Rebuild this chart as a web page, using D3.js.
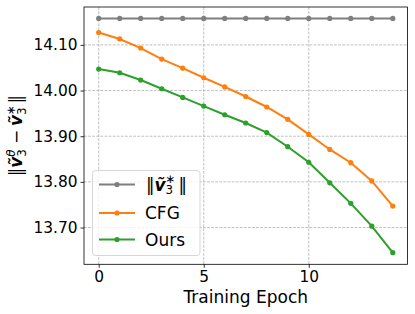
<!DOCTYPE html>
<html><head><meta charset="utf-8">
<script src="https://cdn.jsdelivr.net/npm/d3@7"></script>
<style>body{margin:0;background:#fff}svg{display:block;font-family:"DejaVu Sans",sans-serif}</style>
</head><body>
<svg id="c" width="415" height="314"></svg>
<script>
const epochs = [0,1,2,3,4,5,6,7,8,9,10,11,12,13,14];
const refNorm = [14.158,14.158,14.158,14.158,14.158,14.158,14.158,14.158,14.158,14.158,14.158,14.158,14.158,14.158,14.158];
const cfg = [14.127,14.113,14.093,14.069,14.049,14.028,14.008,13.987,13.964,13.937,13.904,13.871,13.842,13.802,13.747];
const ours = [14.047,14.039,14.023,14.004,13.985,13.966,13.947,13.929,13.908,13.877,13.843,13.798,13.753,13.703,13.645];
const xTicks = [0,5,10];
const yTicks = [13.70,13.80,13.90,14.00,14.10];
const seriesNames = ["ref","CFG","Ours"];
const colors = ["#7f7f7f","#ff7f0e","#2ca02c"];

const svg = d3.select("#c");
const L=84, R=407.5, T=7, B=264.3;
const x = d3.scaleLinear().domain([-0.7,14.7]).range([L,R]);
const y = d3.scaleLinear().domain([13.6195,14.183]).range([B,T]);

// grid
const g = svg.append("g");
g.selectAll(".gx").data(xTicks).join("line")
  .attr("x1",d=>x(d)).attr("x2",d=>x(d)).attr("y1",T).attr("y2",B)
  .attr("stroke","#b0b0b0").attr("stroke-width",0.8).attr("stroke-dasharray","2.8,1.3");
g.selectAll(".gy").data(yTicks).join("line")
  .attr("y1",d=>y(d)).attr("y2",d=>y(d)).attr("x1",L).attr("x2",R)
  .attr("stroke","#b0b0b0").attr("stroke-width",0.8).attr("stroke-dasharray","2.8,1.3");

// axes
const xAxis = d3.axisBottom(x).tickValues(xTicks).tickFormat(d3.format("d")).tickSize(3.5).tickPadding(3);
const yAxis = d3.axisLeft(y).tickValues(yTicks).tickFormat(d3.format(".2f")).tickSize(3.5).tickPadding(3);
const ax = svg.append("g").attr("transform",`translate(0,${B})`).call(xAxis);
const ay = svg.append("g").attr("transform",`translate(${L},0)`).call(yAxis);
[ax,ay].forEach(a=>{
  a.select(".domain").remove();
  a.selectAll("line").attr("stroke","#000").attr("stroke-width",0.8);
  a.selectAll("text").attr("font-family","DejaVu Sans").attr("font-size",15.4).attr("fill","#000");
});

// series
const data = [refNorm,cfg,ours];
const line = d3.line().x((d,i)=>x(epochs[i])).y(d=>y(d));
data.forEach((s,k)=>{
  svg.append("path").datum(s).attr("d",line).attr("fill","none")
    .attr("stroke",colors[k]).attr("stroke-width",2);
  svg.selectAll(null).data(s).join("circle")
    .attr("cx",(d,i)=>x(epochs[i])).attr("cy",d=>y(d)).attr("r",2.6).attr("fill",colors[k]);
});

// frame
svg.append("rect").attr("x",L).attr("y",T).attr("width",R-L).attr("height",B-T)
  .attr("fill","none").attr("stroke","#000").attr("stroke-width",0.8);

// math layout helper
function mathText(parent, pieces, fs){
  const grp = parent.append("g");
  let cx = 0;
  pieces.forEach(p=>{
    if(p.gap!==undefined){ cx += fs*p.gap; return; }
    if(p.stack){
      const s1 = grp.append("text").attr("x",cx).attr("y",-fs*0.42).attr("font-size",fs*0.7)
        .attr("font-style",p.supIt?"italic":"normal").text(p.sup);
      const s2 = grp.append("text").attr("x",cx).attr("y",fs*0.22).attr("font-size",fs*0.7).text(p.sub);
      cx += Math.max(s1.node().getComputedTextLength(), s2.node().getComputedTextLength()) + fs*0.08;
    } else {
      const t = grp.append("text").attr("x",cx).attr("y",0).attr("font-size",fs)
        .attr("font-weight",p.style==="bi"?"bold":"normal")
        .attr("font-style",(p.style==="bi"||p.style==="i")?"italic":"normal").text(p.t);
      cx += t.node().getComputedTextLength();
    }
  });
  grp.selectAll("text").attr("fill","#000").attr("font-family","DejaVu Sans");
  return {grp, width:cx};
}

// y label
const yl = svg.append("g");
const m = mathText(yl,[
  {t:"\u2016",style:"n"},{t:"v\u0303",style:"bi"},{stack:true,sup:"\u03b8",sub:"3",supIt:true},
  {gap:0.22},{t:"\u2212",style:"n"},{gap:0.22},{t:"v\u0303",style:"bi"},{stack:true,sup:"\u2217",sub:"3"},{t:"\u2016",style:"n"}
],17);
m.grp.attr("transform",`translate(${-m.width/2},0)`);
yl.attr("transform",`translate(22,${(T+B)/2}) rotate(-90)`);

// x label
svg.append("text").attr("x",(L+R)/2).attr("y",303).attr("text-anchor","middle")
  .attr("font-size",17).attr("fill","#000").text("Training Epoch");

// legend
const lg = svg.append("g");
lg.append("rect").attr("x",92.5).attr("y",170.5).attr("width",107.5).attr("height",85).attr("rx",3)
  .attr("fill","#fff").attr("fill-opacity",0.8).attr("stroke","#cccccc").attr("stroke-width",0.8);
const rowsY = [184.5,213,239.5];
rowsY.forEach((ry,k)=>{
  lg.append("line").attr("x1",99).attr("x2",135).attr("y1",ry).attr("y2",ry)
    .attr("stroke",colors[k]).attr("stroke-width",2);
  lg.append("circle").attr("cx",117).attr("cy",ry).attr("r",2.6).attr("fill",colors[k]);
});
const l0 = lg.append("g").attr("transform",`translate(146,${rowsY[0]+6})`);
mathText(l0,[{t:"\u2016",style:"n"},{t:"v\u0303",style:"bi"},{stack:true,sup:"\u2217",sub:"3"},{gap:0.1},{t:"\u2016",style:"n"}],17);
lg.append("text").attr("x",145).attr("y",rowsY[1]+6).attr("font-size",17).attr("fill","#000").text("CFG");
lg.append("text").attr("x",145).attr("y",rowsY[2]+6).attr("font-size",17).attr("fill","#000").text("Ours");
</script>
</body></html>
